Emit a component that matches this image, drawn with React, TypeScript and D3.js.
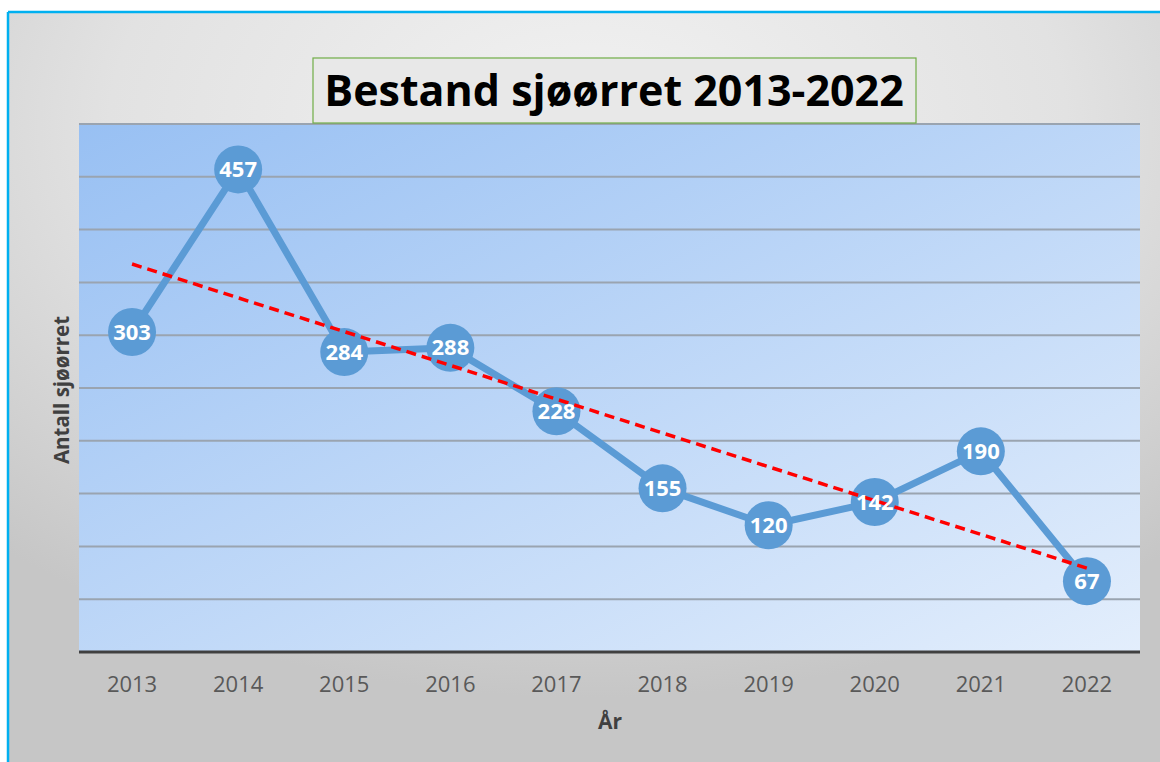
import React from "react";
import * as d3 from "d3";

const years: string[] = ["2013", "2014", "2015", "2016", "2017", "2018", "2019", "2020", "2021", "2022"];
const counts: number[] = [303, 457, 284, 288, 228, 155, 120, 142, 190, 67];
const yTicks: number[] = [0, 50, 100, 150, 200, 250, 300, 350, 400, 450, 500];

const W = 1160;
const H = 762;
const plot = { left: 79, right: 1140, top: 124, bottom: 652 };

export default function App() {
  const x = d3.scaleBand<string>().domain(years).range([plot.left, plot.right]).padding(0);
  const y = d3.scaleLinear().domain([0, 500]).range([plot.bottom, plot.top]);
  const cx = (yr: string) => (x(yr) as number) + x.bandwidth() / 2;

  const line = d3
    .line<number>()
    .x((_, i) => cx(years[i]))
    .y((d) => y(d));

  // linear regression trendline
  const n = counts.length;
  const mx = d3.mean(counts.map((_, i) => i)) as number;
  const my = d3.mean(counts) as number;
  let sxy = 0,
    sxx = 0;
  counts.forEach((v, i) => {
    sxy += (i - mx) * (v - my);
    sxx += (i - mx) * (i - mx);
  });
  const slope = sxy / sxx;
  const intercept = my - slope * mx;
  const t0 = intercept;
  const t1 = intercept + slope * (n - 1);

  const font = "'Open Sans', 'Noto Sans', sans-serif";

  return (
    <svg width={W} height={H} style={{ position: "absolute", left: 0, top: 0 }}>
      <defs>
        <radialGradient id="bg" cx="0.5" cy="0.15" r="0.75">
          <stop offset="0" stopColor="#F2F2F2" />
          <stop offset="0.55" stopColor="#E2E2E2" />
          <stop offset="1" stopColor="#C6C6C6" />
        </radialGradient>
        <linearGradient id="plotbg" x1="0" y1="0" x2="1" y2="1">
          <stop offset="0" stopColor="#98C0F3" />
          <stop offset="1" stopColor="#E3EEFC" />
        </linearGradient>
      </defs>
      <rect x={0} y={0} width={W} height={H} fill="#FFFFFF" />
      <rect x={8} y={12} width={W} height={H} fill="url(#bg)" />
      <line x1={8} y1={12} x2={W} y2={12} stroke="#00B0F0" strokeWidth={2.5} />
      <line x1={8} y1={12} x2={8} y2={H} stroke="#00B0F0" strokeWidth={2.5} />

      <rect
        x={plot.left}
        y={plot.top}
        width={plot.right - plot.left}
        height={plot.bottom - plot.top}
        fill="url(#plotbg)"
      />
      {yTicks.slice(1).map((t) => (
        <line
          key={t}
          x1={plot.left}
          x2={plot.right}
          y1={y(t)}
          y2={y(t)}
          stroke="#9AA4B0"
          strokeWidth={2}
        />
      ))}
      <line
        x1={plot.left}
        x2={plot.right}
        y1={y(0)}
        y2={y(0)}
        stroke="#404040"
        strokeWidth={3}
      />

      {years.map((yr) => (
        <text
          key={yr}
          x={cx(yr)}
          y={692}
          textAnchor="middle"
          fontFamily={font}
          fontSize={22}
          fill="#595959"
        >
          {yr}
        </text>
      ))}

      <text
        x={610}
        y={729}
        textAnchor="middle"
        fontFamily={font}
        fontWeight="bold"
        fontSize={21}
        fill="#404040"
      >
        År
      </text>
      <text
        transform={`translate(69, ${390}) rotate(-90)`}
        textAnchor="middle"
        fontFamily={font}
        fontWeight="bold"
        fontSize={20.5}
        fill="#404040"
      >
        Antall sjøørret
      </text>

      <rect x={313} y={58} width={603} height={65} fill="#E8E8E8" stroke="#70AD47" strokeWidth={1.2} />
      <text
        x={614}
        y={106}
        textAnchor="middle"
        fontFamily={font}
        fontWeight="bold"
        fontSize={43}
        fill="#000000"
      >
        Bestand sjøørret 2013-2022
      </text>

      <path d={line(counts) || ""} fill="none" stroke="#5B9BD5" strokeWidth={7} strokeLinejoin="round" />
      {counts.map((v, i) => (
        <g key={i}>
          <circle cx={cx(years[i])} cy={y(v)} r={24} fill="#5B9BD5" />
        </g>
      ))}
      <line
        x1={cx(years[0])}
        y1={y(t0)}
        x2={cx(years[n - 1])}
        y2={y(t1)}
        stroke="#FF0000"
        strokeWidth={3.5}
        strokeDasharray="10 6"
      />
      {counts.map((v, i) => (
        <text
          key={i}
          x={cx(years[i])}
          y={y(v) + 7.5}
          textAnchor="middle"
          fontFamily={font}
          fontWeight="bold"
          fontSize={22}
          fill="#FFFFFF"
        >
          {v}
        </text>
      ))}
    </svg>
  );
}
